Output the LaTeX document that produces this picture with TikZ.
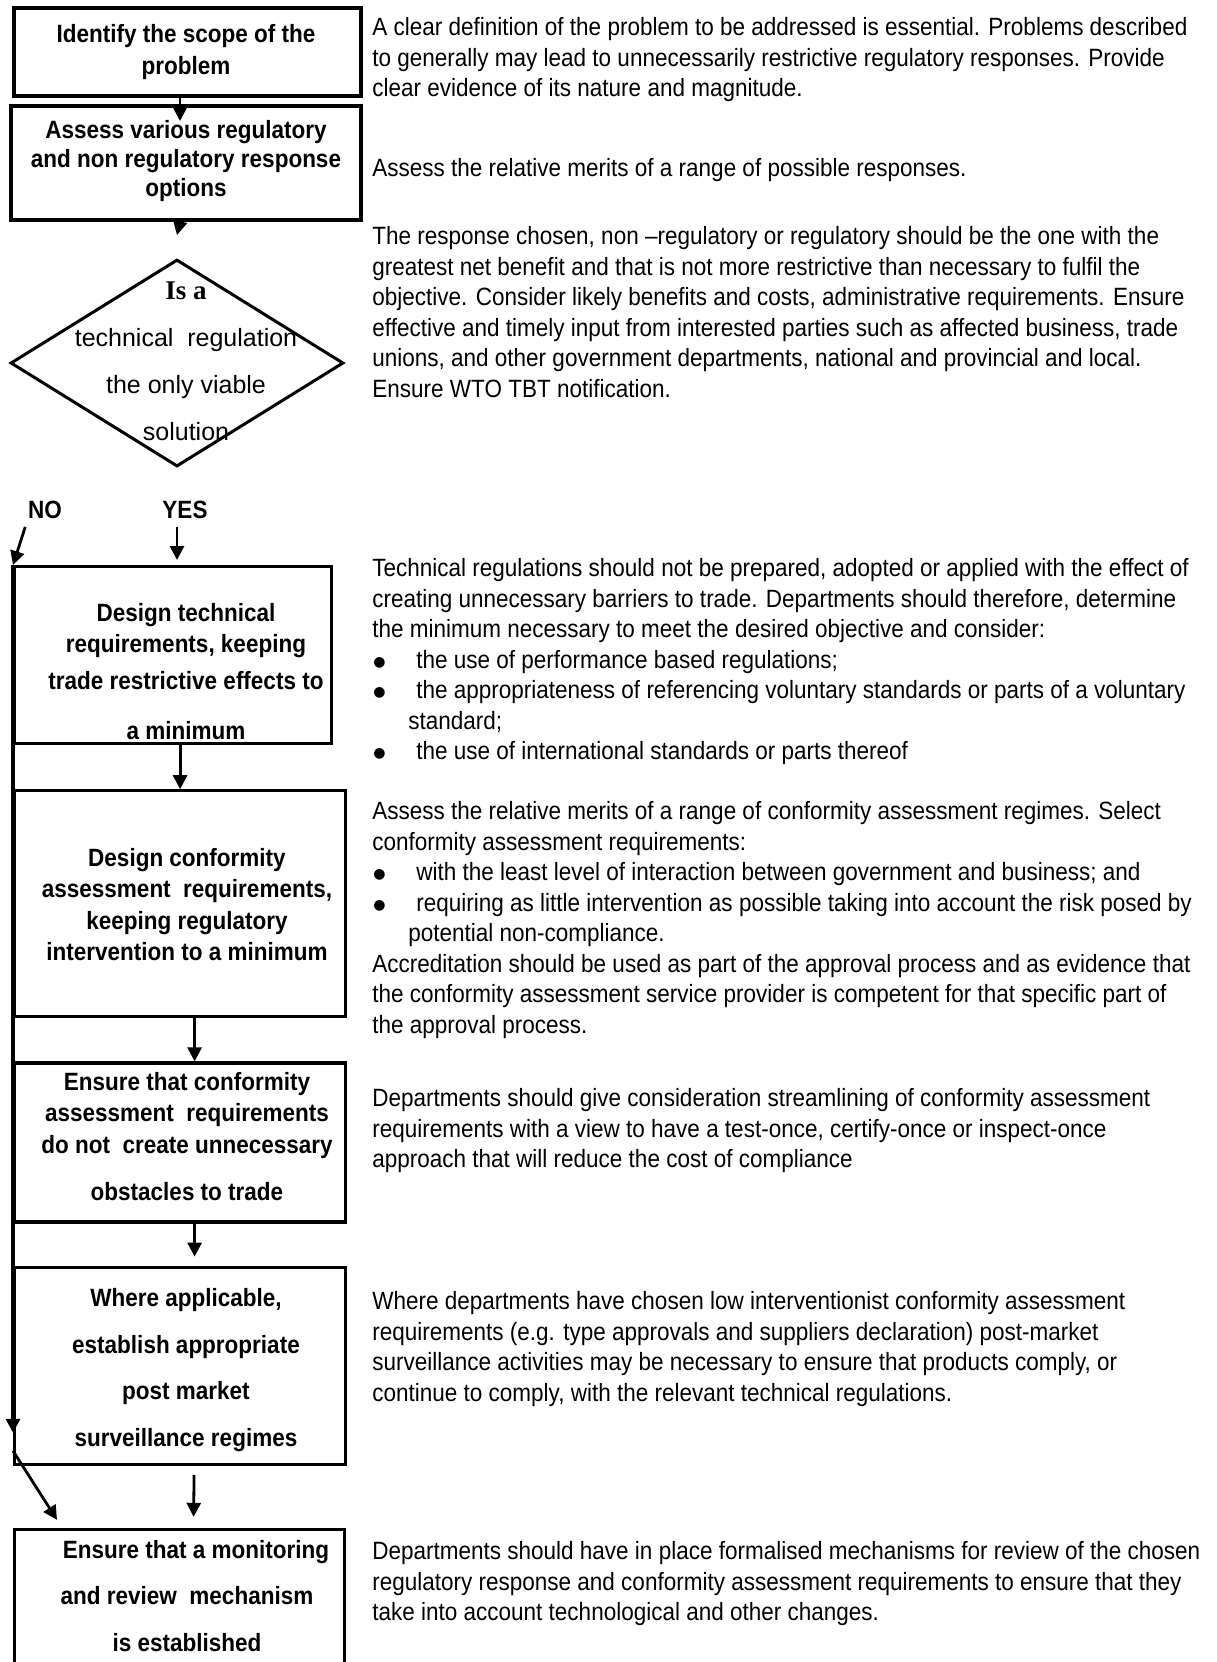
\documentclass[tikz,border=0pt]{standalone}
\usepackage{fontspec}
\setmainfont{Liberation Sans}[FakeStretch=0.9]
\newfontfamily\decfont{Liberation Sans}
\newfontfamily\isafont{Liberation Serif}
\newfontfamily\dotfont{DejaVu Sans}
\usetikzlibrary{arrows.meta,positioning,shapes.geometric}
\newcommand{\bul}{\makebox[22pt][l]{\hspace{0.5pt}\raisebox{1pt}{\dotfont\fontsize{7pt}{0pt}\selectfont ●}}}

\begin{document}
\begin{tikzpicture}[>={Triangle[length=7pt,width=7pt]},
  box/.style={draw,line width=1.6pt,minimum width=165.5pt,inner sep=0pt},
  btxt/.style={align=center,inner sep=0pt,font=\bfseries\fontsize{12.5pt}{15.5pt}\selectfont},
  wtxt/.style={btxt,font=\bfseries\fontsize{12.5pt}{23.3pt}\selectfont},
  note/.style={anchor=north west,align=left,inner sep=0pt,font=\fontsize{12.5pt}{15.25pt}\selectfont},
  yn/.style={inner sep=0pt,font=\bfseries\fontsize{12.5pt}{15pt}\selectfont},
  arr/.style={->,line width=1.4pt}]
\useasboundingbox (0,0) rectangle (608.5pt,-831pt);
\clip (0,0) rectangle (608.5pt,-831pt);
% flow on the left
\node[box,line width=2pt,minimum width=173.5pt,minimum height=44pt,anchor=north west] (scope) at (6pt,-3pt) {};
\node[btxt] (scopetxt) at (93pt,-26pt) {Identify the scope of the\\[0.5pt]problem};
\node[box,line width=2pt,minimum width=175pt,minimum height=57pt,below right=3pt and -1.5pt of scope.south west] (assess) {};
\node[btxt] (assesstxt) at (93pt,-80.5pt) {Assess various regulatory\\[-1pt]and non regulatory response\\[-1pt]options};
\node[diamond,draw,line width=1.5pt,minimum width=166.5pt,minimum height=103.5pt,inner sep=0pt] (dec) at (88.5pt,-181.5pt) {};
\node[align=center,inner sep=0pt,font=\decfont\fontsize{12.5pt}{23.5pt}\selectfont] (dectxt) at (93pt,-180.5pt)
  {{\isafont\bfseries\fontsize{13.5pt}{23.5pt}\selectfont Is a}\\technical\ \ regulation\\the only viable\\solution};
\node[yn] (no) at (22.5pt,-255pt) {NO};
\node[yn] (yes) at (92.5pt,-255pt) {YES};
\node[box,minimum width=158.5pt,minimum height=88.5pt,anchor=north west] (design) at (6.5pt,-282.5pt) {};
\node[btxt] (designtxt) at (93pt,-335.75pt) {Design technical\\requirements, keeping\\[3pt]trade restrictive effects to\\[9.5pt]a minimum};
\node[box,minimum height=113pt,below right=22pt and 0pt of design.south west] (conf) {};
\node[btxt,font=\bfseries\fontsize{12.5pt}{15.8pt}\selectfont] (conftxt) at (93.5pt,-452.25pt)
  {Design conformity\\assessment\ \ requirements,\\keeping regulatory\\intervention to a minimum};
\node[box,minimum height=79.5pt,below right=21.5pt and 0pt of conf.south west] (obst) {};
\node[btxt] (obsttxt) at (93.5pt,-568.5pt) {Ensure that conformity\\assessment\ \ requirements\\[0.5pt]do not\ \ create unnecessary\\[8pt]obstacles to trade};
\node[box,minimum height=98.5pt,below right=21pt and 0pt of obst.south west] (surv) {};
\node[wtxt] (survtxt) at (93pt,-685pt) {Where applicable,\\establish appropriate\\post market\\surveillance regimes};
\node[box,minimum width=165pt,minimum height=80pt,below right=31pt and 0pt of surv.south west] (monitor) {};
\node[wtxt] (montxt) at (93.5pt,-798pt) {\hspace*{9pt}Ensure that a monitoring\\and review\ \ mechanism\\is established};
% connectors
\draw[arr] ([xshift=-3.75pt]scope.south) -- ([xshift=-3pt,yshift=-8.5pt]assess.north);
\draw[arr] ([xshift=-3pt]assess.south) -- ([yshift=11.5pt]dec.north);
\draw[arr,shorten <=4pt,shorten >=2.5pt] (yes.south -| dec.south) -- (design.north -| dec.south);
\draw[arr,shorten <=4pt] (no.south west) -- (design.north west);
\draw[arr,line width=1.6pt] (design.north west) -- ([yshift=16.5pt]surv.south west);
\draw[arr] ([yshift=7.5pt]surv.south west) -- ([xshift=22pt,yshift=4pt]monitor.north west);
\draw[arr] (design.south -| conf.north) -- (conf.north);
\draw[arr] ([xshift=7.25pt]conf.south) -- ([xshift=7.25pt]obst.north);
\draw[arr] ([xshift=7.25pt]obst.south) -- ([xshift=7.25pt,yshift=4.5pt]surv.north);
\draw[arr] ([xshift=7pt,yshift=-4.5pt]surv.south) -- ([xshift=7pt,yshift=5.5pt]monitor.north);
% notes on the right
\node[note] (n1) at (186pt,-8.5pt) {A clear definition of the problem to be addressed is essential. Problems described\\
  to generally may lead to unnecessarily restrictive regulatory responses. Provide\\
  clear evidence of its nature and magnitude.};
\node[note] (n2) at (186pt,-79pt) {Assess the relative merits of a range of possible responses.};
\node[note] (n3) at (186pt,-113pt) {The response chosen, non –regulatory or regulatory should be the one with the\\
  greatest net benefit and that is not more restrictive than necessary to fulfil the\\
  objective. Consider likely benefits and costs, administrative requirements. Ensure\\
  effective and timely input from interested parties such as affected business, trade\\
  unions, and other government departments, national and provincial and local.\\
  Ensure WTO TBT notification.};
\node[note] (n4) at (186pt,-279pt) {Technical regulations should not be prepared, adopted or applied with the effect of\\
  creating unnecessary barriers to trade. Departments should therefore, determine\\
  the minimum necessary to meet the desired objective and consider:\\
  \bul the use of performance based regulations;\\
  \bul the appropriateness of referencing voluntary standards or parts of a voluntary\\
  \hspace*{18pt}standard;\\
  \bul the use of international standards or parts thereof};
\node[note] (n5) at (186pt,-400.5pt) {Assess the relative merits of a range of conformity assessment regimes. Select\\
  conformity assessment requirements:\\
  \bul with the least level of interaction between government and business; and\\
  \bul requiring as little intervention as possible taking into account the risk posed by\\
  \hspace*{18pt}potential non-compliance.\\
  Accreditation should be used as part of the approval process and as evidence that\\
  the conformity assessment service provider is competent for that specific part of\\
  the approval process.};
\node[note] (n6) at (186pt,-544pt) {Departments should give consideration streamlining of conformity assessment\\
  requirements with a view to have a test-once, certify-once or inspect-once\\
  approach that will reduce the cost of compliance};
\node[note] (n7) at (186pt,-645.5pt) {Where departments have chosen low interventionist conformity assessment\\
  requirements (e.g. type approvals and suppliers declaration) post-market\\
  surveillance activities may be necessary to ensure that products comply, or\\
  continue to comply, with the relevant technical regulations.};
\node[note] (n8) at (186pt,-770.5pt) {Departments should have in place formalised mechanisms for review of the chosen\\
  regulatory response and conformity assessment requirements to ensure that they\\
  take into account technological and other changes.};
\end{tikzpicture}
\end{document}
